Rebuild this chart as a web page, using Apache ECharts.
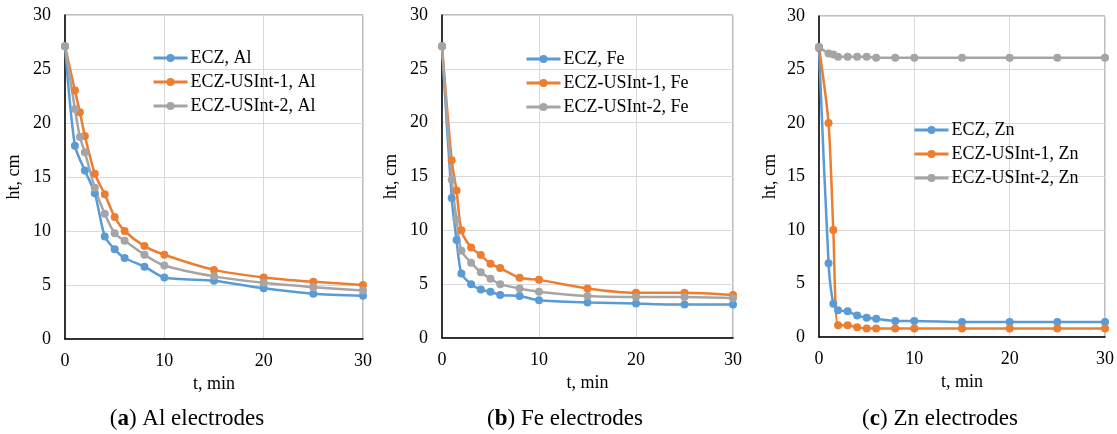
<!DOCTYPE html>
<html>
<head>
<meta charset="utf-8">
<script src="https://cdn.jsdelivr.net/npm/echarts@6/dist/echarts.min.js"></script>
<style>
  html, body { margin: 0; padding: 0; background: #fff; }
  #chart { width: 1117px; height: 434px; }
</style>
</head>
<body>
<div id="chart"></div>
<script>
// ── Data ───────────────────────────────────────────────
const timeStd   = [0, 1, 1.5, 2, 3, 4, 5, 6, 8, 10, 15, 20, 25, 30];
const timeAlEcz = [0, 1, 2, 3, 4, 5, 6, 8, 10, 15, 20, 25, 30];

const alEcz  = [27.1, 17.9, 15.6, 13.5, 9.5, 8.3, 7.5, 6.7, 5.7, 5.4, 4.7, 4.2, 4.0];
const alUs1  = [27.1, 23.0, 21.0, 18.8, 15.3, 13.4, 11.3, 10.0, 8.6, 7.8, 6.4, 5.7, 5.3, 5.0];
const alUs2  = [27.1, 21.3, 18.7, 17.3, 14.0, 11.6, 9.8, 9.1, 7.8, 6.8, 5.8, 5.2, 4.8, 4.5];

const feEcz  = [27.1, 13.0, 9.1, 6.0, 5.0, 4.5, 4.3, 4.0, 3.9, 3.5, 3.3, 3.2, 3.1, 3.1];
const feUs1  = [27.1, 16.5, 13.7, 10.0, 8.4, 7.7, 6.9, 6.5, 5.6, 5.4, 4.6, 4.2, 4.2, 4.0];
const feUs2  = [27.1, 14.7, 11.0, 8.1, 7.0, 6.1, 5.5, 5.0, 4.6, 4.3, 3.9, 3.8, 3.8, 3.7];

const znEcz  = [27.0, 6.9, 3.1, 2.5, 2.4, 2.0, 1.8, 1.7, 1.5, 1.5, 1.4, 1.4, 1.4, 1.4];
const znUs1  = [27.1, 20.0, 10.0, 1.1, 1.1, 0.9, 0.8, 0.8, 0.8, 0.8, 0.8, 0.8, 0.8, 0.8];
const znUs2  = [27.1, 26.5, 26.4, 26.2, 26.2, 26.2, 26.2, 26.1, 26.1, 26.1, 26.1, 26.1, 26.1, 26.1];

const xTicks = [0, 10, 20, 30];
const yTicks = [0, 5, 10, 15, 20, 25, 30];

// ── Style ──────────────────────────────────────────────
const FONT   = "'Liberation Serif', serif";
const BLUE   = '#5B9BD5';
const ORANGE = '#ED7D31';
const GRAY   = '#A5A5A5';

const panels = [
  { grid: { left: 65,  top: 15, width: 298, height: 324 }, nameGap: 42,
    legend: { left: 152, top: 49 }, caption: { x: 187, letter: 'a', rest: ' Al electrodes' },
    series: [['ECZ, Al', timeAlEcz, alEcz, BLUE], ['ECZ-USInt-1, Al', timeStd, alUs1, ORANGE], ['ECZ-USInt-2, Al', timeStd, alUs2, GRAY]] },
  { grid: { left: 442, top: 15, width: 291, height: 323 }, nameGap: 42,
    legend: { left: 525, top: 50 }, caption: { x: 565, letter: 'b', rest: ' Fe electrodes' },
    series: [['ECZ, Fe', timeStd, feEcz, BLUE], ['ECZ-USInt-1, Fe', timeStd, feUs1, ORANGE], ['ECZ-USInt-2, Fe', timeStd, feUs2, GRAY]] },
  { grid: { left: 819, top: 16, width: 289, height: 321 }, nameGap: 40,
    legend: { left: 913, top: 121 }, caption: { x: 940, letter: 'c', rest: ' Zn electrodes' },
    series: [['ECZ, Zn', timeStd, znEcz, BLUE], ['ECZ-USInt-1, Zn', timeStd, znUs1, ORANGE], ['ECZ-USInt-2, Zn', timeStd, znUs2, GRAY]] },
];

const chart = echarts.init(document.getElementById('chart'));

const grids = [], xAxes = [], yAxes = [], legends = [], series = [], graphics = [];

panels.forEach((p, i) => {
  grids.push(Object.assign({ show: true, borderColor: '#7F7F7F', borderWidth: 1, backgroundColor: '#fff' }, p.grid));

  xAxes.push({
    type: 'value', gridIndex: i,
    min: xTicks[0], max: xTicks[xTicks.length - 1], interval: xTicks[1] - xTicks[0],
    name: 't, min', nameLocation: 'middle', nameGap: 30,
    nameTextStyle: { fontFamily: FONT, fontSize: 18, color: '#000' },
    axisLine: { lineStyle: { color: '#000', width: 1.5 } },
    axisTick: { show: false },
    axisLabel: { fontFamily: FONT, fontSize: 18, color: '#000', margin: 13 },
    splitLine: { lineStyle: { color: '#D9D9D9', width: 1 } },
  });

  yAxes.push({
    type: 'value', gridIndex: i,
    min: yTicks[0], max: yTicks[yTicks.length - 1], interval: yTicks[1] - yTicks[0],
    name: 'ht, cm', nameLocation: 'middle', nameGap: p.nameGap,
    nameTextStyle: { fontFamily: FONT, fontSize: 18, color: '#000' },
    axisLine: { show: true, lineStyle: { color: '#000', width: 1.5 } },
    axisTick: { show: false },
    axisLabel: { fontFamily: FONT, fontSize: 18, color: '#000', margin: 14 },
    splitLine: { lineStyle: { color: '#D9D9D9', width: 1 } },
  });

  legends.push({
    left: p.legend.left, top: p.legend.top, orient: 'vertical', padding: 0,
    itemWidth: 34, itemHeight: 10, itemGap: 6,
    data: p.series.map(s => s[0]),
    lineStyle: { width: 3 },
    textStyle: { fontFamily: FONT, fontSize: 18, color: '#000', padding: [0, 0, 0, -2] },
    selectedMode: false,
  });

  p.series.forEach(([name, xs, ys, color]) => {
    series.push({
      name, type: 'line', xAxisIndex: i, yAxisIndex: i,
      data: xs.map((x, k) => [x, ys[k]]),
      smooth: 0.25,
      symbol: 'circle', symbolSize: 8,
      lineStyle: { color, width: 2.5 },
      itemStyle: { color },
      emphasis: { disabled: true },
      animation: false,
    });
  });

  graphics.push({
    type: 'text', x: p.caption.x, y: 419,
    style: {
      text: '{n|(}{b|' + p.caption.letter + '}{n|)' + p.caption.rest + '}',
      align: 'center', verticalAlign: 'middle',
      rich: {
        n: { fontFamily: FONT, fontSize: 23, fill: '#000' },
        b: { fontFamily: FONT, fontSize: 23, fontWeight: 'bold', fill: '#000' },
      },
    },
  });
});

chart.setOption({
  backgroundColor: '#fff',
  animation: false,
  grid: grids,
  xAxis: xAxes,
  yAxis: yAxes,
  legend: legends,
  series,
  graphic: graphics,
});
</script>
</body>
</html>
